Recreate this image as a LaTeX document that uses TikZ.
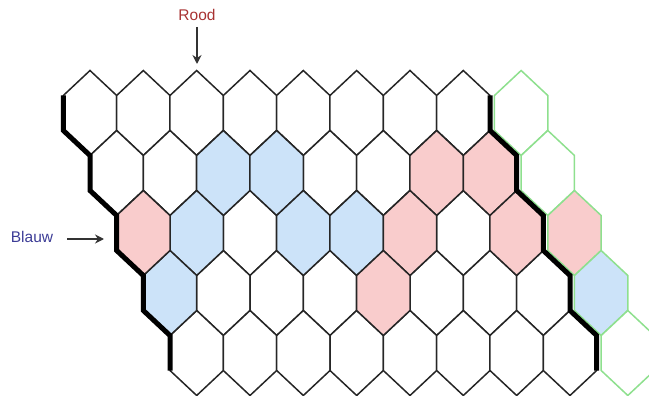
\documentclass[tikz,border=0pt]{standalone}
\usepackage{fontspec}
\setmainfont{Liberation Sans}
\usetikzlibrary{arrows.meta, positioning}

\definecolor{blauwvak}{HTML}{CCE3F9}
\definecolor{roodvak}{HTML}{F9CCCC}
\definecolor{randgroen}{HTML}{8EE08E}
\definecolor{roodtekst}{HTML}{A83232}
\definecolor{blauwtekst}{HTML}{3C3C96}

% one hexagon, drawn from its centre
\newcommand{\hexvak}{++(0,-42.5) -- ++(26.67,25) -- ++(0,35) -- ++(-26.67,25) -- ++(-26.67,-25) -- ++(0,-35) -- cycle}

\tikzset{
  vak/.style={draw=black!85, line width=1.5pt, line join=miter, fill=white},
  blauw/.style={vak, fill=blauwvak},
  rood/.style={vak, fill=roodvak},
  groen/.style={draw=randgroen, line width=1.5pt, fill=white},
  rand/.style={line width=5pt, line join=miter},
  pijl/.style={-{Stealth[length=9pt, width=9pt]}, line width=1.4pt, draw=black!80},
  label/.style={font=\fontsize{15.5}{18}\selectfont, inner sep=2pt},
}

\begin{document}
\begin{tikzpicture}[x=1pt, y=-1pt]
\useasboundingbox (0,0) rectangle (649,396);
\clip (0,0) rectangle (649,396);
% Draw board
\foreach \r in {0,...,4}{
  \foreach \c in {0,...,7}{
    \draw[vak] ({90+26.67*\r+53.33*\c},{113+60*\r}) \hexvak;
  }
}
% Blue stones
\foreach \r/\c in {1/2, 1/3, 2/1, 2/3, 2/4, 3/0}
  \draw[blauw] ({90+26.67*\r+53.33*\c},{113+60*\r}) \hexvak;
% Red stones
\foreach \r/\c in {1/6, 1/7, 2/0, 2/5, 2/7, 3/4}
  \draw[rood] ({90+26.67*\r+53.33*\c},{113+60*\r}) \hexvak;
% Green column
\foreach \r/\kleur in {0/white, 1/white, 2/roodvak, 3/blauwvak, 4/white}
  \draw[groen, fill=\kleur] ({94.5+26.67*\r+53.33*8},{113+60*\r}) \hexvak;
% Borders
\draw[rand] (63.33,95.5) -- (63.33,130.5) -- (90,155.5) -- (90,190.5)
  -- (116.67,215.5) -- (116.67,250.5) -- (143.33,275.5) -- (143.33,310.5)
  -- (170,335.5) -- (170,370.5);
\draw[rand] (490,95.5) -- (490,130.5) -- (516.67,155.5) -- (516.67,190.5)
  -- (543.33,215.5) -- (543.33,250.5) -- (570,275.5) -- (570,310.5)
  -- (596.67,335.5) -- (596.67,370.5);
% Labels
\node[label, text=roodtekst] (rood) at (197,15) {Rood};
\coordinate (roodpunt) at (197,64);
\draw[pijl] ([yshift=-4pt]rood.south) -- (roodpunt);
\node[label, text=blauwtekst] (blauw) at (32,237) {Blauw};
\coordinate (blauwpunt) at (104,239);
\draw[pijl] ([xshift=12pt, yshift=-2pt]blauw.east) -- (blauwpunt);
\end{tikzpicture}
\end{document}
